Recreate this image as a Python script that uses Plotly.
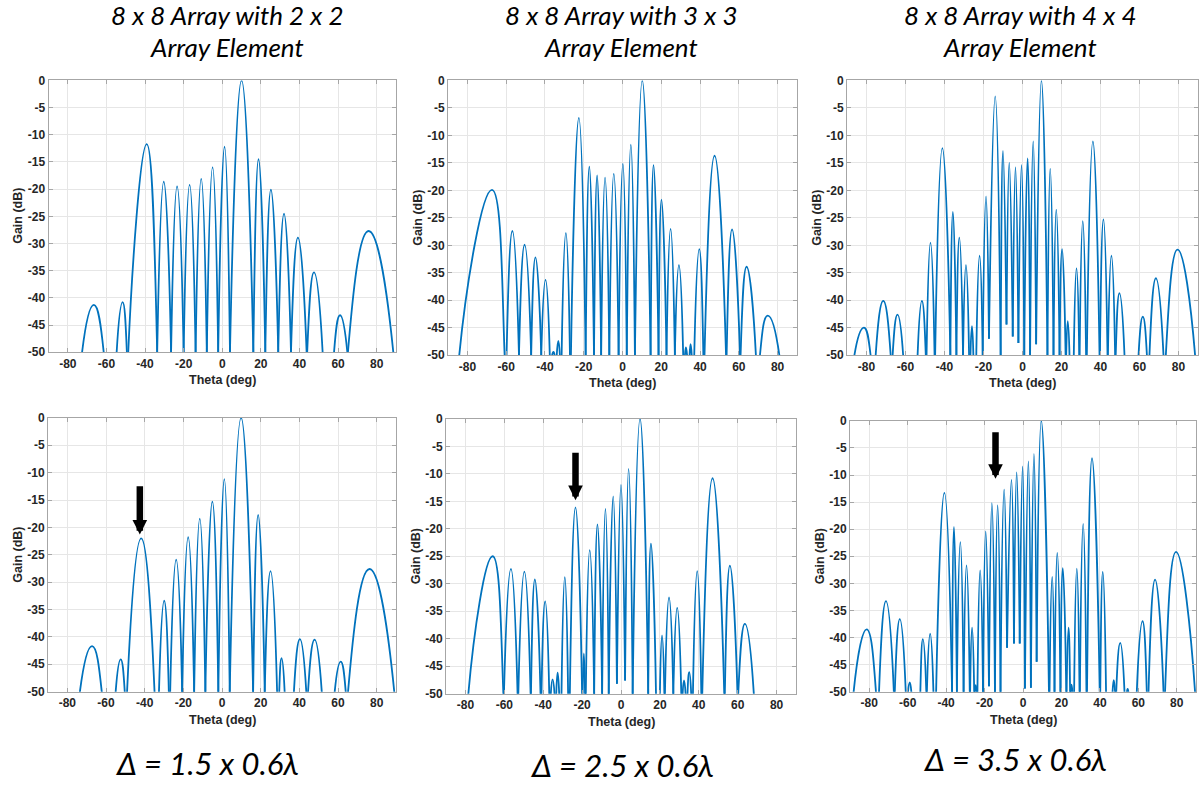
import plotly.graph_objects as go

# ---------------- data ----------------
# Each lobe: left null, peak, right null (theta in deg / gain in dB); None separates lobes.
theta_top_2x2 = [
    -72.6, -66.5, -61.4, None,
    -54.7, -51.6, -49.4, None,
    -48.7, -39.1, -33.7, None,
    -33.7, -30.3, -26.5, None,
    -26.5, -23.4, -20.0, None,
    -20.0, -16.9, -13.8, None,
    -13.8, -10.9, -8.0, None,
    -8.0, -5.0, -2.1, None,
    -2.1, 1.2, 4.0, None,
    4.0, 10.0, 16.1, None,
    16.1, 18.8, 22.3, None,
    22.3, 25.2, 29.0, None,
    29.0, 32.0, 35.6, None,
    35.6, 39.2, 43.7, None,
    44.0, 47.5, 52.0, None,
    57.9, 61.0, 64.8, None,
    65.1, 75.8, 88.6,
]
gain_top_2x2 = [
    -50, -41.3, -50, None,
    -50, -40.8, -50, None,
    -50, -11.7, -50, None,
    -50, -18.6, -50, None,
    -50, -19.5, -50, None,
    -50, -19.2, -50, None,
    -50, -18.1, -50, None,
    -50, -16.0, -50, None,
    -50, -12.2, -50, None,
    -50, 0.0, -50, None,
    -50, -14.5, -50, None,
    -50, -20.1, -50, None,
    -50, -24.5, -50, None,
    -50, -28.9, -50, None,
    -50, -35.3, -50, None,
    -50, -43.2, -50, None,
    -50, -27.7, -50,
]

theta_top_3x3 = [
    -84.2, -67.3, -60.8, None,
    -59.8, -56.8, -53.4, None,
    -53.4, -50.5, -47.1, None,
    -47.1, -44.9, -41.9, None,
    -41.9, -39.7, -37.5, None,
    -36.3, -35.6, -35.0, None,
    -33.9, -33.1, -32.3, None,
    -31.4, -29.2, -27.1, None,
    -26.6, -22.5, -19.0, None,
    -19.0, -17.1, -14.7, None,
    -14.7, -13.1, -11.0, None,
    -11.0, -9.0, -6.8, None,
    -6.8, -4.5, -2.0, None,
    -2.0, 0.2, 2.2, None,
    2.2, 4.3, 6.4, None,
    6.4, 10.2, 14.5, None,
    14.5, 16.0, 18.6, None,
    18.6, 20.1, 22.7, None,
    22.7, 24.8, 27.0, None,
    27.0, 29.1, 31.3, None,
    32.2, 32.7, 33.3, None,
    34.6, 35.1, 35.7, None,
    37.0, 39.6, 41.7, None,
    42.3, 47.5, 53.4, None,
    53.7, 56.5, 60.6, None,
    60.9, 64.0, 68.8, None,
    70.9, 74.9, 80.9,
]
gain_top_3x3 = [
    -50, -19.9, -50, None,
    -50, -27.4, -50, None,
    -50, -29.9, -50, None,
    -50, -32.2, -50, None,
    -50, -36.3, -50, None,
    -50, -49.4, -50, None,
    -50, -47.4, -50, None,
    -50, -27.8, -50, None,
    -50, -6.8, -50, None,
    -50, -15.7, -50, None,
    -50, -17.3, -50, None,
    -50, -17.7, -50, None,
    -50, -17.0, -50, None,
    -50, -15.2, -50, None,
    -50, -11.7, -50, None,
    -50, 0.0, -50, None,
    -50, -15.4, -50, None,
    -50, -21.7, -50, None,
    -50, -27.0, -50, None,
    -50, -33.6, -50, None,
    -50, -48.6, -50, None,
    -50, -48.0, -50, None,
    -50, -30.7, -50, None,
    -50, -13.7, -50, None,
    -50, -27.1, -50, None,
    -50, -33.9, -50, None,
    -50, -42.8, -50,
]

theta_top_4x4 = [
    -86.2, -81.3, -77.9, None,
    -75.3, -71.4, -67.6, None,
    -66.6, -64.1, -61.2, None,
    -53.8, -51.6, -49.6, None,
    -49.2, -47.2, -45.1, None,
    -44.8, -41.1, -37.0, None,
    -37.0, -35.7, -33.9, None,
    -33.9, -32.4, -30.5, None,
    -30.5, -29.0, -27.4, None,
    -26.7, -25.9, -25.2, None,
    -23.7, -22.0, -20.4, None,
    -20.4, -18.7, -17.2, None,
    -17.2, -14.0, -11.2, None,
    -11.2, -10.0, -8.2, None,
    -8.2, -6.8, -5.0, None,
    -5.0, -3.6, -2.1, None,
    -2.1, -0.5, 0.9, None,
    0.9, 2.6, 3.9, None,
    3.9, 5.5, 7.0, None,
    7.0, 9.7, 12.8, None,
    12.8, 14.2, 15.9, None,
    15.9, 17.3, 19.0, None,
    19.0, 20.3, 22.1, None,
    22.4, 23.2, 24.1, None,
    26.3, 27.7, 29.1, None,
    29.3, 30.9, 32.6, None,
    33.0, 36.1, 39.5, None,
    39.7, 41.5, 43.6, None,
    43.8, 45.6, 47.5, None,
    47.8, 49.7, 52.3, None,
    59.5, 61.7, 63.8, None,
    65.1, 68.4, 72.3, None,
    73.5, 79.5, 88.5,
]
gain_top_4x4 = [
    -50, -45.0, -50, None,
    -50, -40.1, -50, None,
    -50, -42.6, -50, None,
    -50, -40.1, -50, None,
    -50, -29.5, -50, None,
    -50, -12.3, -50, None,
    -50, -23.9, -50, None,
    -50, -28.6, -50, None,
    -50, -33.6, -50, None,
    -50, -44.7, -50, None,
    -50, -31.9, -50, None,
    -50, -21.1, -47.0, None,
    -47.0, -2.9, -50, None,
    -50, -12.8, -44.4, None,
    -44.4, -15.0, -46.6, None,
    -46.6, -15.8, -47.8, None,
    -47.8, -15.4, -50, None,
    -50, -14.2, -50, None,
    -50, -11.1, -48.0, None,
    -48.0, 0.0, -50, None,
    -50, -16.1, -50, None,
    -50, -23.5, -50, None,
    -50, -30.7, -50, None,
    -50, -43.8, -50, None,
    -50, -34.2, -50, None,
    -50, -25.6, -50, None,
    -50, -11.1, -50, None,
    -50, -25.3, -50, None,
    -50, -31.9, -50, None,
    -50, -38.7, -50, None,
    -50, -43.0, -50, None,
    -50, -36.0, -50, None,
    -50, -30.8, -50,
]

theta_bot_2x2 = [
    -73.5, -67.2, -62.2, None,
    -55.0, -52.4, -50.3, None,
    -49.1, -41.8, -34.9, None,
    -32.6, -29.9, -27.5, None,
    -26.8, -23.7, -20.6, None,
    -20.6, -17.5, -14.4, None,
    -14.4, -11.5, -8.6, None,
    -8.6, -5.0, -1.9, None,
    -1.9, 1.2, 4.0, None,
    4.0, 9.9, 16.1, None,
    16.1, 18.7, 22.1, None,
    22.1, 25.1, 28.5, None,
    29.6, 30.8, 32.4, None,
    37.2, 40.3, 43.6, None,
    44.5, 47.9, 51.6, None,
    58.3, 61.4, 64.0, None,
    65.2, 76.3, 89.1,
]
gain_bot_2x2 = [
    -50, -41.7, -50, None,
    -50, -44.1, -50, None,
    -50, -22.0, -50, None,
    -50, -33.4, -50, None,
    -50, -25.9, -50, None,
    -50, -21.8, -50, None,
    -50, -18.4, -50, None,
    -50, -15.3, -50, None,
    -50, -11.2, -50, None,
    -50, 0.0, -50, None,
    -50, -17.7, -50, None,
    -50, -28.0, -50, None,
    -50, -43.9, -50, None,
    -50, -40.4, -50, None,
    -50, -40.5, -50, None,
    -50, -44.5, -50, None,
    -50, -27.6, -50,
]

theta_bot_3x3 = [
    -78.5, -66.0, -60.5, None,
    -60.2, -56.6, -53.2, None,
    -52.8, -49.7, -46.5, None,
    -46.3, -44.3, -41.4, None,
    -40.9, -39.0, -36.9, None,
    -36.1, -35.2, -34.2, None,
    -33.3, -32.6, -31.8, None,
    -30.6, -28.9, -27.2, None,
    -26.3, -23.4, -20.0, None,
    -19.7, -19.1, -18.5, None,
    -18.1, -16.1, -13.8, None,
    -13.8, -12.1, -9.7, None,
    -9.7, -8.0, -6.3, None,
    -6.3, -4.0, -2.1, None,
    -2.1, 0.0, 2.1, None,
    2.1, 3.9, 6.0, None,
    6.0, 9.8, 14.0, None,
    14.0, 15.4, 18.0, None,
    20.0, 21.1, 22.3, None,
    22.6, 24.7, 26.9, None,
    26.9, 28.9, 31.0, None,
    31.7, 32.4, 33.2, None,
    34.2, 35.1, 36.1, None,
    37.0, 39.2, 41.3, None,
    41.8, 47.1, 53.1, None,
    53.4, 56.0, 59.9, None,
    60.3, 63.7, 68.3,
]
gain_bot_3x3 = [
    -50, -25.0, -50, None,
    -50, -27.3, -50, None,
    -50, -27.8, -50, None,
    -50, -29.2, -50, None,
    -50, -33.2, -50, None,
    -50, -47.4, -50, None,
    -50, -46.2, -50, None,
    -50, -28.8, -50, None,
    -50, -16.1, -50, None,
    -50, -42.7, -50, None,
    -50, -23.9, -50, None,
    -50, -19.2, -50, None,
    -50, -16.4, -50, None,
    -50, -14.1, -48.2, None,
    -48.2, -12.0, -47.6, None,
    -47.6, -9.1, -50, None,
    -50, 0.0, -50, None,
    -50, -22.7, -50, None,
    -50, -39.4, -50, None,
    -50, -32.5, -50, None,
    -50, -34.4, -50, None,
    -50, -47.6, -50, None,
    -50, -46.1, -50, None,
    -50, -27.7, -50, None,
    -50, -10.8, -50, None,
    -50, -26.7, -50, None,
    -50, -37.3, -50,
]

theta_bot_4x4 = [
    -88.1, -81.3, -76.5, None,
    -74.9, -71.3, -67.2, None,
    -66.7, -64.1, -61.0, None,
    -59.8, -58.9, -58.1, None,
    -53.4, -52.1, -50.3, None,
    -50.0, -48.3, -46.6, None,
    -45.2, -40.9, -36.9, None,
    -36.9, -35.9, -34.4, None,
    -34.4, -32.6, -30.9, None,
    -30.9, -29.4, -27.7, None,
    -27.5, -26.5, -25.4, None,
    -25.1, -24.6, -24.1, None,
    -23.7, -22.3, -20.8, None,
    -20.8, -19.4, -17.7, None,
    -17.7, -16.2, -14.6, None,
    -14.6, -13.2, -11.7, None,
    -11.7, -9.8, -8.3, None,
    -8.3, -6.0, -4.7, None,
    -4.7, -3.3, -1.7, None,
    -1.7, -0.2, 1.0, None,
    1.0, 2.8, 4.1, None,
    4.1, 5.7, 7.1, None,
    7.1, 9.5, 13.5, None,
    13.8, 15.2, 16.4, None,
    16.4, 17.8, 19.5, None,
    19.5, 20.7, 22.5, None,
    22.7, 23.7, 24.5, None,
    24.8, 25.2, 25.7, None,
    26.6, 28.0, 29.4, None,
    29.6, 31.3, 33.0, None,
    33.3, 35.9, 39.9, None,
    40.2, 41.5, 43.2, None,
    46.6, 47.2, 47.9, None,
    48.5, 50.6, 52.8, None,
    54.1, 54.4, 54.8, None,
    59.2, 62.2, 64.4, None,
    65.3, 68.7, 73.1, None,
    73.9, 79.6, 89.5,
]
gain_bot_4x4 = [
    -50, -38.5, -50, None,
    -50, -33.3, -50, None,
    -50, -36.6, -50, None,
    -50, -48.3, -50, None,
    -50, -40.3, -50, None,
    -50, -39.3, -50, None,
    -50, -13.3, -50, None,
    -50, -19.6, -50, None,
    -50, -22.4, -50, None,
    -50, -26.7, -50, None,
    -50, -38.2, -50, None,
    -50, -48.8, -50, None,
    -50, -27.6, -50, None,
    -50, -20.4, -49.0, None,
    -49.0, -15.2, -50, None,
    -50, -15.6, -50, None,
    -50, -12.7, -41.9, None,
    -41.9, -10.9, -41.1, None,
    -41.1, -9.5, -41.1, None,
    -41.1, -8.4, -49.4, None,
    -49.4, -7.5, -49.3, None,
    -49.3, -6.1, -44.5, None,
    -44.5, 0.0, -50, None,
    -50, -28.8, -50, None,
    -50, -24.4, -50, None,
    -50, -27.2, -50, None,
    -50, -38.2, -50, None,
    -50, -48.7, -50, None,
    -50, -27.3, -50, None,
    -50, -19.0, -50, None,
    -50, -6.9, -50, None,
    -50, -27.9, -50, None,
    -50, -47.9, -50, None,
    -50, -41.0, -50, None,
    -50, -49.5, -50, None,
    -50, -37.0, -50, None,
    -50, -29.3, -50, None,
    -50, -24.2, -50,
]

title_line1 = ["8 x 8 Array with 2 x 2", "8 x 8 Array with 3 x 3", "8 x 8 Array with 4 x 4"]
title_line2 = ["Array Element", "Array Element", "Array Element"]
delta_labels = ["Δ = 1.5 x 0.6λ", "Δ = 2.5 x 0.6λ", "Δ = 3.5 x 0.6λ"]

# arrows in bottom row: (theta, gain at tip, gain at tail)
arrow_theta = [-42.5, -23.4, -14.3]
arrow_tip = [-21.3, -14.8, -10.7]
arrow_tail = [-12.2, -5.9, -1.8]

x_ticks = [-80, -60, -40, -20, 0, 20, 40, 60, 80]
y_ticks = [0, -5, -10, -15, -20, -25, -30, -35, -40, -45, -50]

FLOOR = -50          # bottom of the gain axis
NULL_DEPTH = -80     # nulls continue below the axis floor (clipped)

# ---------------- layout geometry (reference pixels) ----------------
W, H = 1203, 785
boxes = [  # x0, x1, y0(top), y1(bottom)
    (48.5, 396, 80, 353),
    (448, 797, 80, 356),
    (847, 1198, 80, 356),
    (48, 396, 419, 694),
    (446, 796, 420, 696),
    (850, 1196, 422, 694),
]
series = [
    (theta_top_2x2, gain_top_2x2),
    (theta_top_3x3, gain_top_3x3),
    (theta_top_4x4, gain_top_4x4),
    (theta_bot_2x2, gain_bot_2x2),
    (theta_bot_3x3, gain_bot_3x3),
    (theta_bot_4x4, gain_bot_4x4),
]

# vertical calibration of the photographed page (observed: shown_y = 6.2 + 0.9867*y)
Y_OFF, Y_SCALE = 6.2, 0.9867


def fx(px):
    return px / W


def fy(py):
    return 1 - ((py - Y_OFF) / Y_SCALE) / H


def lobes_to_path(th, g):
    """Split at None; where a lobe meets the axis floor, continue it below the
    (clipped) floor into its null so the spline leaves the floor steeply."""
    xs, ys = [], []
    seg_x, seg_y = [], []
    for a, b in list(zip(th, g)) + [(None, None)]:
        if a is None:
            if seg_x:
                if seg_y[0] <= FLOOR:
                    seg_x.insert(0, seg_x[0]); seg_y.insert(0, NULL_DEPTH)
                if seg_y[-1] <= FLOOR:
                    seg_x.append(seg_x[-1]); seg_y.append(NULL_DEPTH)
                xs += seg_x + [None]
                ys += seg_y + [None]
            seg_x, seg_y = [], []
        else:
            seg_x.append(a); seg_y.append(b)
    return xs, ys


BLUE = "#0072BD"
TICKFONT = dict(family="Liberation Sans, Arial, sans-serif", size=12, color="#262626", weight="bold")
LABFONT = dict(family="Liberation Sans, Arial, sans-serif", size=12.5, color="#262626", weight="bold")
BIGFONT = dict(family="Lato, Liberation Sans, sans-serif", size=26, color="black", style="italic")

fig = go.Figure()
layout = dict(width=W, height=H, margin=dict(l=0, r=0, t=0, b=0, pad=0),
              paper_bgcolor="white", plot_bgcolor="white", showlegend=False)
annotations = []

for i, ((x0, x1, y0, y1), (th, g)) in enumerate(zip(boxes, series), start=1):
    xn = "x" if i == 1 else f"x{i}"
    yn = "y" if i == 1 else f"y{i}"
    px, py = lobes_to_path(th, g)
    fig.add_trace(go.Scatter(x=px, y=py, mode="lines", xaxis=xn, yaxis=yn,
                             connectgaps=False,
                             line=dict(color=BLUE, width=1.8, shape="spline", smoothing=1.3),
                             hoverinfo="x+y"))
    common = dict(showline=True, linecolor="#a6a6a6", linewidth=1, mirror="ticks",
                  ticks="inside", ticklen=4, tickcolor="#a6a6a6",
                  showgrid=True, gridcolor="#e6e6e6", gridwidth=1, zeroline=False,
                  tickfont=TICKFONT, fixedrange=True, tickmode="array")
    layout["xaxis" if i == 1 else f"xaxis{i}"] = dict(
        domain=[fx(x0), fx(x1)], anchor=yn, range=[-90, 90],
        tickvals=x_ticks, ticktext=[str(v) for v in x_ticks], **common)
    layout["yaxis" if i == 1 else f"yaxis{i}"] = dict(
        domain=[fy(y1), fy(y0)], anchor=xn, range=[-50, 0],
        tickvals=y_ticks, ticktext=[str(v) for v in y_ticks], **common)
    annotations.append(dict(text="Theta (deg)", xref="paper", yref="paper",
                            x=fx((x0 + x1) / 2), y=fy(y1 + 28),
                            showarrow=False, font=LABFONT, xanchor="center", yanchor="middle"))
    annotations.append(dict(text="Gain (dB)", xref="paper", yref="paper",
                            x=fx(x0 - 30), y=fy((y0 + y1) / 2), textangle=-90,
                            showarrow=False, font=LABFONT, xanchor="center", yanchor="middle"))

title_cx = [227, 621, 1020]
delta_cx = [207, 622, 1015]
delta_cy = [766, 768, 762]
for k in range(3):
    annotations.append(dict(text=title_line1[k], xref="paper", yref="paper",
                            x=fx(title_cx[k]), y=fy(14.5), showarrow=False,
                            font=BIGFONT, xanchor="center", yanchor="middle"))
    annotations.append(dict(text=title_line2[k], xref="paper", yref="paper",
                            x=fx(title_cx[k]), y=fy(46.5), showarrow=False,
                            font=BIGFONT, xanchor="center", yanchor="middle"))
    annotations.append(dict(text=delta_labels[k], xref="paper", yref="paper",
                            x=fx(delta_cx[k]), y=fy(delta_cy[k]), showarrow=False,
                            font=dict(BIGFONT, size=31), xanchor="center", yanchor="middle"))
    xa = f"x{k + 4}"
    ya = f"y{k + 4}"
    annotations.append(dict(text="", x=arrow_theta[k], y=arrow_tip[k], xref=xa, yref=ya,
                            ax=arrow_theta[k], ay=arrow_tail[k], axref=xa, ayref=ya,
                            showarrow=True, arrowhead=2, arrowsize=0.45, arrowwidth=6.5,
                            arrowcolor="black", standoff=0))

layout["annotations"] = annotations
fig.update_layout(**layout)
fig.write_html(
    "out.html",
    config={"displayModeBar": False},
    post_script=("document.body.style.margin='0';document.body.style.padding='0';"
                 "document.body.style.overflow='hidden';"
                 "document.documentElement.style.overflow='hidden';"),
)
